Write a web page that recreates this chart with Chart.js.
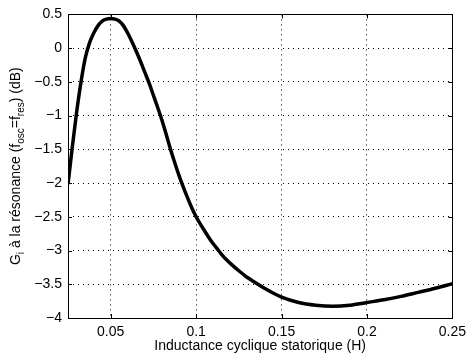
<!DOCTYPE html>
<html>
<head>
<meta charset="utf-8">
<script src="https://cdn.jsdelivr.net/npm/chart.js@4/dist/chart.umd.min.js"></script>
<style>
  html, body { margin:0; padding:0; background:#fff; }
  #wrap { width:472px; height:358px; }
</style>
</head>
<body>
<div id="wrap"><canvas id="gainChart" width="472" height="358"></canvas></div>
<script>
// inductance (H) and gain at resonance (dB)
const inductance = [0.025, 0.0275, 0.030, 0.0325, 0.035, 0.0375, 0.040, 0.0425, 0.045, 0.0475,
    0.050, 0.0525, 0.055, 0.0575, 0.060, 0.0625, 0.065, 0.0675, 0.070, 0.0725,
    0.075, 0.0775, 0.080, 0.0825, 0.085, 0.0875, 0.090, 0.0925, 0.095, 0.0975,
    0.100, 0.1025, 0.105, 0.1075, 0.110, 0.1125, 0.115, 0.1175, 0.120, 0.125,
    0.130, 0.135, 0.140, 0.145, 0.150, 0.160, 0.170, 0.180, 0.190, 0.200,
    0.210, 0.220, 0.230, 0.240, 0.250];
const gainDb = [-2.02, -1.47, -0.96, -0.52, -0.16, 0.07, 0.22, 0.33, 0.40, 0.43,
    0.44, 0.43, 0.40, 0.33, 0.22, 0.09, -0.05, -0.20, -0.36, -0.52,
    -0.70, -0.88, -1.07, -1.28, -1.50, -1.70, -1.89, -2.06, -2.22, -2.37,
    -2.50, -2.61, -2.71, -2.81, -2.90, -2.98, -3.06, -3.13, -3.19, -3.30,
    -3.40, -3.48, -3.56, -3.63, -3.69, -3.77, -3.81, -3.825, -3.81, -3.77,
    -3.73, -3.68, -3.62, -3.56, -3.49];
const xTicks = [0.05, 0.1, 0.15, 0.2, 0.25];
const yTicks = [-4, -3.5, -3, -2.5, -2, -1.5, -1, -0.5, 0, 0.5];

const FONT = '"Liberation Sans", Arial, Helvetica, sans-serif';

// box + inner tick marks, matlab style, and the y label with subscripts
const framePlugin = {
    id: 'frame',
    afterDraw(chart) {
        const ctx = chart.ctx, a = chart.chartArea;
        const xs = chart.scales.x, ys = chart.scales.y;
        ctx.save();
        ctx.strokeStyle = '#000';
        ctx.lineWidth = 1;
        ctx.strokeRect(Math.round(a.left) + 0.5, Math.round(a.top) + 0.5, Math.round(a.right - a.left), Math.round(a.bottom - a.top));
        ctx.beginPath();
        xTicks.forEach(v => {
            const px = Math.round(xs.getPixelForValue(v)) + 0.5;
            ctx.moveTo(px, a.bottom); ctx.lineTo(px, a.bottom - 4);
            ctx.moveTo(px, a.top); ctx.lineTo(px, a.top + 4);
        });
        yTicks.forEach(v => {
            const py = Math.round(ys.getPixelForValue(v)) + 0.5;
            ctx.moveTo(a.left, py); ctx.lineTo(a.left + 4, py);
            ctx.moveTo(a.right, py); ctx.lineTo(a.right - 4, py);
        });
        ctx.stroke();

        // rotated y title
        const parts = [
            { t: 'G', sub: false }, { t: 'i', sub: true },
            { t: ' à la résonance (f', sub: false }, { t: 'osc', sub: true },
            { t: '=f', sub: false }, { t: 'res', sub: true },
            { t: ') (dB)', sub: false }
        ];
        const big = '14px ' + FONT, small = '10px ' + FONT;
        let total = 0;
        parts.forEach(p => { ctx.font = p.sub ? small : big; p.w = ctx.measureText(p.t).width; total += p.w; });
        ctx.translate(20, (a.top + a.bottom) / 2);
        ctx.rotate(-Math.PI / 2);
        ctx.fillStyle = '#000';
        ctx.textBaseline = 'alphabetic';
        let x = -total / 2;
        parts.forEach(p => {
            ctx.font = p.sub ? small : big;
            ctx.fillText(p.t, x, p.sub ? 4 : 0);
            x += p.w;
        });
        ctx.restore();
    }
};

new Chart(document.getElementById('gainChart'), {
    type: 'line',
    data: {
        datasets: [{
            data: inductance.map((v, i) => ({ x: v, y: gainDb[i] })),
            borderColor: '#000',
            borderWidth: 3.5,
            pointRadius: 0,
            fill: false,
            cubicInterpolationMode: 'monotone'
        }]
    },
    options: {
        responsive: false,
        animation: false,
        layout: { padding: { left: 0, top: 10, right: 14, bottom: 0 } },
        plugins: { legend: { display: false }, tooltip: { enabled: false } },
        scales: {
            x: {
                type: 'linear',
                min: 0.025, max: 0.25,
                afterBuildTicks: s => { s.ticks = xTicks.map(v => ({ value: v })); },
                afterFit: s => { s.height = 40; },
                grid: { color: '#000', lineWidth: 1, drawTicks: false },
                border: { display: false, dash: [1, 4] },
                ticks: {
                    color: '#000', padding: 6, maxRotation: 0,
                    font: { family: FONT, size: 14 },
                    callback: v => String(v)
                },
                title: {
                    display: true, text: 'Inductance cyclique statorique (H)',
                    color: '#000', font: { family: FONT, size: 14 },
                    padding: { top: 0, bottom: 3 }
                }
            },
            y: {
                min: -4, max: 0.5,
                afterBuildTicks: s => { s.ticks = yTicks.map(v => ({ value: v })); },
                afterFit: s => { s.width = 68; },
                grid: { color: '#000', lineWidth: 1, drawTicks: false },
                border: { display: false, dash: [1, 4] },
                ticks: {
                    color: '#000', padding: 6,
                    font: { family: FONT, size: 14 },
                    callback: v => String(v).replace('-', '\u2212')
                }
            }
        }
    },
    plugins: [framePlugin]
});
</script>
</body>
</html>
